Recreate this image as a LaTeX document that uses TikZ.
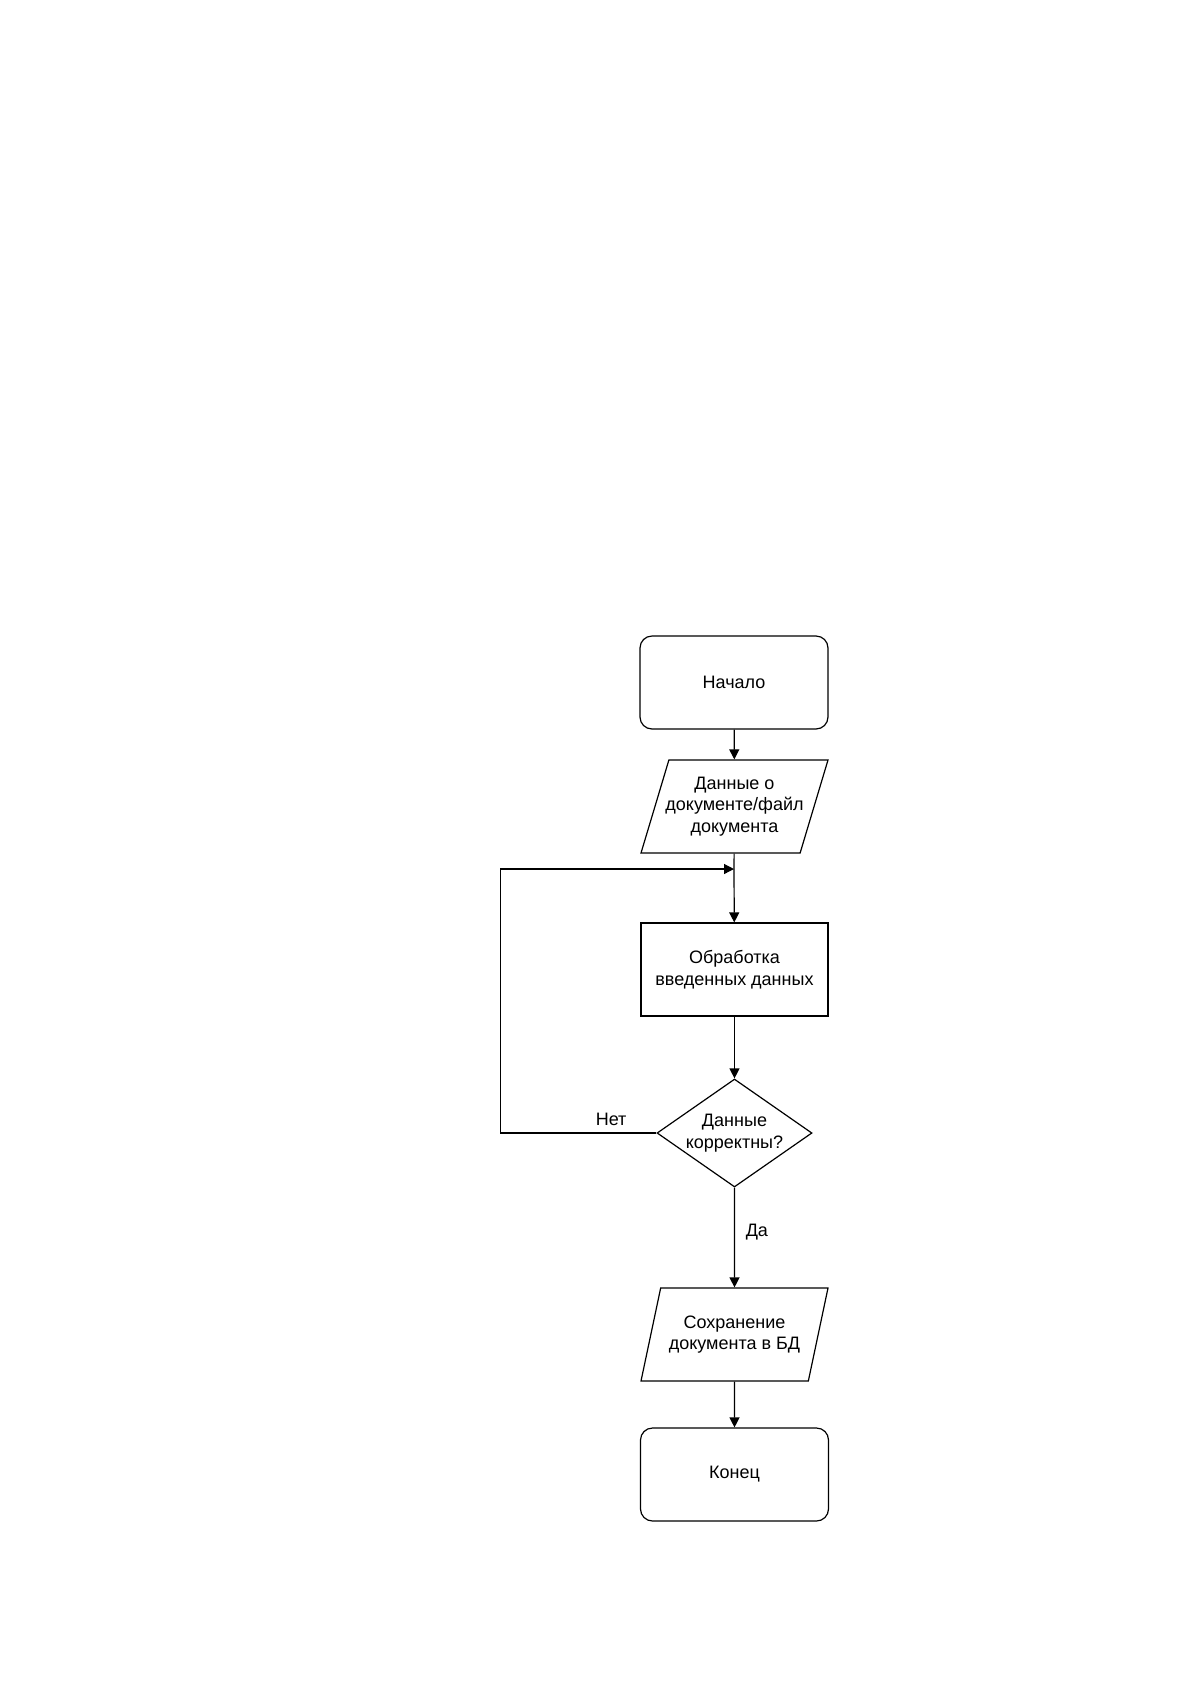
\documentclass[tikz,border=0pt]{standalone}
\usepackage{fontspec}
\setmainfont{Liberation Sans}
\usetikzlibrary{shapes.geometric,arrows.meta,positioning}

\begin{document}
\begin{tikzpicture}[x=0.5pt,y=-0.5pt,line width=0.6pt,
  every node/.style={font=\fontsize{9}{10.8}\selectfont, align=center},
  term/.style={draw, rounded corners=6pt, minimum width=94pt, minimum height=46.5pt},
  proc/.style={draw, minimum width=93.5pt, minimum height=46.5pt},
  io/.style={draw, trapezium, trapezium left angle=69, trapezium right angle=111, trapezium stretches body, minimum width=93.5pt, minimum height=46.5pt, inner xsep=-4pt},
  cond/.style={draw, diamond, aspect=1.435, minimum width=77.5pt, minimum height=54pt, inner sep=0pt},
  flow/.style={-{Triangle[length=5pt,width=5pt]}}]
\useasboundingbox (0,0) rectangle (1190,1682);

\node[term] (start) at (734,682.5) {Начало};
\node[io] (input) at (734.5,806.5) {Данные о\\документе/файл\\документа};
\coordinate (join) at (734,869);
\node[proc] (work) at (734.5,969.5) {Обработка\\введенных данных};
\node[cond] (check) at (734.5,1133) {Данные\\корректны?};
\node[io] (save) at (734.5,1334.5) {Сохранение\\документа в БД};
\node[term] (stop) at (734.5,1474.5) {Конец};

\draw[flow] (start) -- (input);
\draw (input) -- (join);
\draw[flow] (join) -- (work);
\draw[flow] (work) -- (check);
\draw[flow] (check.west) -- node[above, pos=0.29] {Нет} ++(-156,0) |- (join);
\draw[flow] (check) -- node[right, pos=0.45, xshift=2pt] {Да} (save);
\draw[flow] (save) -- (stop);

\end{tikzpicture}
\end{document}
